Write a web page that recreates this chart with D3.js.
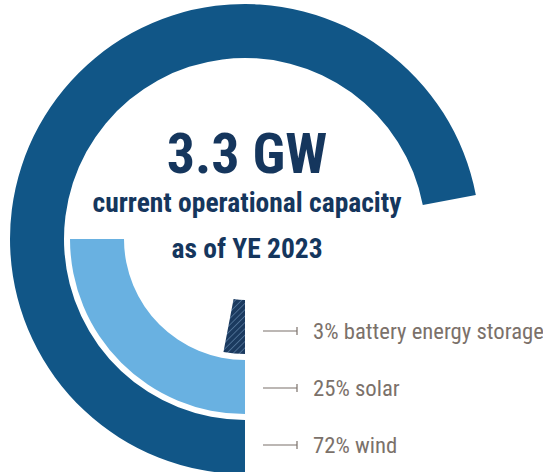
<!DOCTYPE html>
<html>
<head>
<meta charset="utf-8">
<script src="https://cdn.jsdelivr.net/npm/d3@7"></script>
<style>
  html, body { margin: 0; padding: 0; background: #fff; }
  svg { display: block; }
  text { font-family: "Liberation Sans Narrow", "Roboto Condensed", "Arial Narrow", sans-serif; }
</style>
</head>
<body>
<div class="radial--chart"></div>
<script>
// data
var categories = ["battery energy storage", "solar", "wind"];
var shares = [3, 25, 72];
var colors = ["#1b3a5f", "#69b1e1", "#115687"];
var headline = "3.3 GW";
var subLines = ["current operational capacity", "as of YE 2023"];

var width = 543,
    height = 472,
    cx = 245,
    cy = 239;

var svg = d3.select(".radial--chart")
  .append("svg")
    .attr("width", width)
    .attr("height", height);

// hatch for battery
var defs = svg.append("defs");
var pat = defs.append("pattern")
    .attr("id", "hatch")
    .attr("patternUnits", "userSpaceOnUse")
    .attr("width", 4.5)
    .attr("height", 4.5)
    .attr("patternTransform", "rotate(45)");
pat.append("rect")
    .attr("width", 4.5).attr("height", 4.5)
    .attr("fill", colors[0]);
pat.append("line")
    .attr("x1", 0).attr("y1", 0).attr("x2", 0).attr("y2", 4.5)
    .attr("stroke", "#6f93b8")
    .attr("stroke-width", 1.1);

// scales
var angle = d3.scaleLinear()
  .domain([0, 100])
  .range([Math.PI, 3 * Math.PI]);

var radius = d3.scaleBand()
  .domain(categories)
  .range([61, 235])
  .paddingInner(0.1)
  .paddingOuter(0);

var arc = d3.arc()
  .innerRadius(function(d) { return radius(d.name); })
  .outerRadius(function(d) { return radius(d.name) + radius.bandwidth(); })
  .startAngle(angle(0))
  .endAngle(function(d) { return angle(d.value); });

var rows = categories.map(function(c, i) {
  return { name: c, value: shares[i], color: colors[i] };
});

var g = svg.append("g")
  .attr("transform", "translate(" + cx + "," + cy + ")");

g.selectAll("path")
  .data(rows)
  .enter().append("path")
    .attr("d", arc)
    .attr("fill", function(d, i) { return i === 0 ? "url(#hatch)" : d.color; });

// center text
var navy = "#15365d";
g.append("text")
  .attr("x", 2)
  .attr("y", -66)
  .attr("text-anchor", "middle")
  .attr("fill", navy)
  .style("font-weight", "bold")
  .style("font-size", "56px")
  .text(headline);

g.selectAll(".sub")
  .data(subLines)
  .enter().append("text")
    .attr("class", "sub")
    .attr("x", 2)
    .attr("y", function(d, i) { return -27 + i * 46; })
    .attr("text-anchor", "middle")
    .attr("fill", navy)
    .style("font-weight", "bold")
    .style("font-size", "27.5px")
    .text(function(d) { return d; });

// legend
var legY = d3.scalePoint()
  .domain(categories)
  .range([331, 445]);

var grey = "#7b716a";
var leg = svg.selectAll(".leg")
  .data(rows)
  .enter().append("g")
    .attr("class", "leg")
    .attr("transform", function(d) { return "translate(263," + legY(d.name) + ")"; });

leg.append("line")
  .attr("x1", 0).attr("x2", 34).attr("y1", 0).attr("y2", 0)
  .attr("stroke", grey).attr("stroke-width", 1.2);
leg.append("line")
  .attr("x1", 34).attr("x2", 34).attr("y1", -4).attr("y2", 4)
  .attr("stroke", grey).attr("stroke-width", 1.2);
leg.append("text")
  .attr("x", 50)
  .attr("y", 7.5)
  .attr("fill", grey)
  .style("font-size", "22.7px")
  .text(function(d) { return d.value + "% " + d.name; });
</script>
</body>
</html>
